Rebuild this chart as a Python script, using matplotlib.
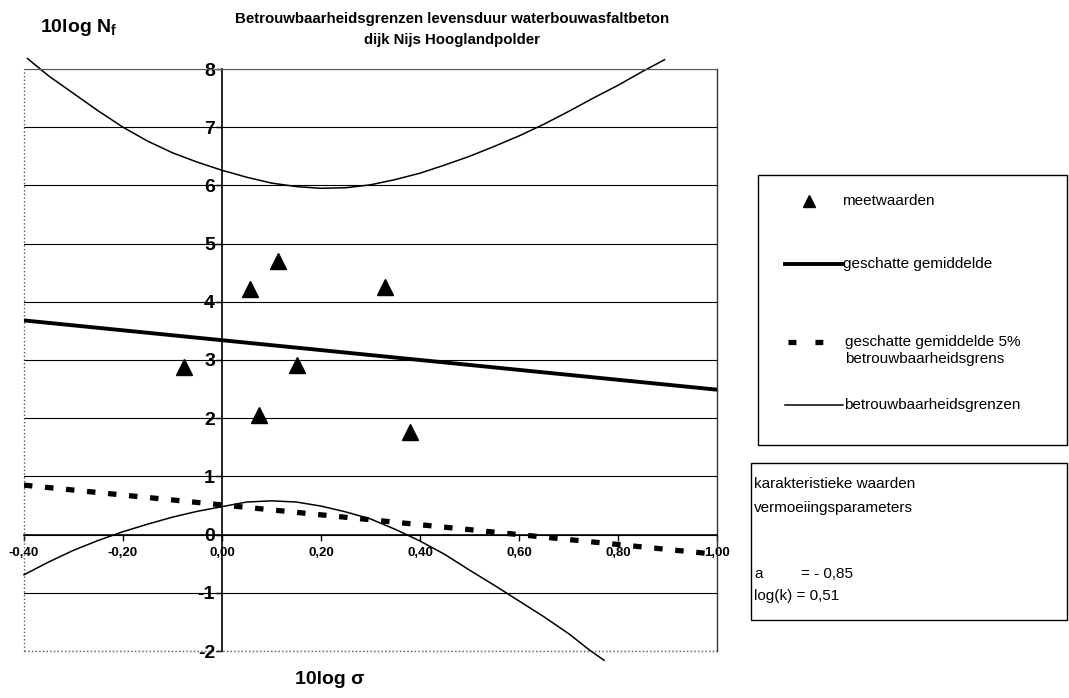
import matplotlib.pyplot as plt
from matplotlib.lines import Line2D
from matplotlib.patches import Rectangle

plt.rcParams['font.family'] = ['Liberation Sans', 'DejaVu Sans']
plt.rcParams['mathtext.fontset'] = 'custom'
plt.rcParams['mathtext.rm'] = 'Liberation Sans'
plt.rcParams['mathtext.bf'] = 'Liberation Sans:bold'

# measured values (10log sigma, 10log Nf)
meet_x = [-0.077, 0.057, 0.113, 0.329, 0.152, 0.074, 0.379]
meet_y = [2.88, 4.22, 4.70, 4.25, 2.91, 2.06, 1.76]

# estimated mean and 5% bound (straight lines)
gem_x = [-0.40, 1.00]
gem_y = [3.68, 2.49]
grens5_x = [-0.40, 1.00]
grens5_y = [0.85, -0.34]

# confidence limits
boven_x = [-0.393, -0.35, -0.30, -0.25, -0.20, -0.15, -0.10, -0.05, 0.00, 0.05, 0.10, 0.15, 0.20,
           0.25, 0.30, 0.35, 0.40, 0.45, 0.50, 0.55, 0.60, 0.65, 0.70, 0.75, 0.80, 0.85, 0.894]
boven_y = [8.18, 7.88, 7.58, 7.28, 7.00, 6.76, 6.56, 6.40, 6.26, 6.14, 6.04, 5.98, 5.95,
           5.96, 6.01, 6.10, 6.21, 6.35, 6.50, 6.67, 6.85, 7.05, 7.27, 7.50, 7.72, 7.96, 8.16]
onder_x = [-0.40, -0.35, -0.30, -0.25, -0.20, -0.15, -0.10, -0.05, 0.00, 0.05, 0.10, 0.15, 0.20,
           0.25, 0.30, 0.35, 0.40, 0.45, 0.50, 0.55, 0.60, 0.65, 0.70, 0.745, 0.772]
onder_y = [-0.69, -0.47, -0.27, -0.10, 0.05, 0.18, 0.30, 0.40, 0.48, 0.56, 0.58, 0.56, 0.49,
           0.39, 0.27, 0.09, -0.11, -0.34, -0.61, -0.87, -1.14, -1.41, -1.70, -2.00, -2.16]

xticks = [-0.4, -0.2, 0.0, 0.2, 0.4, 0.6, 0.8, 1.0]
yticks = list(range(-2, 9))

W, H = 1069, 698
fig = plt.figure(figsize=(W / 100, H / 100), dpi=100)

def px(x, y):
    return x / W, 1 - y / H

ax = fig.add_axes([24 / W, 1 - 651 / H, (717 - 24) / W, (651 - 69) / H])
ax.set_xlim(-0.4, 1.0)
ax.set_ylim(-2, 8)

ax.yaxis.grid(True, color='black', lw=0.8)
ax.set_axisbelow(True)

ax.spines['left'].set_position(('data', 0))
ax.spines['bottom'].set_position(('data', 0))
for s in ['left', 'bottom']:
    ax.spines[s].set_linewidth(1.2)
ax.spines['top'].set_color('0.35')
ax.spines['right'].set_color('0.2')
ax.spines['top'].set_linewidth(0.8)
ax.spines['right'].set_linewidth(1.0)
ax.plot([0, 0], [0, 1], transform=ax.transAxes, ls=':', color='0.35', lw=1.0, clip_on=False)
ax.plot([0, 1], [0, 0], transform=ax.transAxes, ls=':', color='0.35', lw=1.0, clip_on=False)

ax.set_xticks(xticks)
ax.set_xticklabels([('%.2f' % v).replace('.', ',') for v in xticks], fontweight='bold', fontsize=9.5)
ax.set_yticks(yticks)
ax.set_yticklabels([str(v) for v in yticks], fontweight='bold', fontsize=14)
ax.tick_params(axis='x', direction='out', length=4, width=1, pad=5)
ax.tick_params(axis='y', direction='out', length=4, width=1, pad=1)

ax.plot(boven_x, boven_y, color='black', lw=1.1, clip_on=False)
ax.plot(onder_x, onder_y, color='black', lw=1.1, clip_on=False)
ax.plot(gem_x, gem_y, color='black', lw=2.8)
ax.plot(grens5_x, grens5_y, color='black', lw=3.8, dashes=(1.6, 2.4))
ax.plot(meet_x, meet_y, ls='none', marker='^', ms=11, color='black')

# titles
fig.text(*px(452, 19), 'Betrouwbaarheidsgrenzen levensduur waterbouwasfaltbeton',
         ha='center', va='center', fontsize=10.8, fontweight='bold')
fig.text(*px(452, 40), 'dijk Nijs Hooglandpolder',
         ha='center', va='center', fontsize=10.8, fontweight='bold')
fig.text(*px(40, 28), r'10log N$_\mathbf{f}$', ha='left', va='center', fontsize=14, fontweight='bold')
fig.text(*px(330, 680), '10log σ', ha='center', va='center', fontsize=14, fontweight='bold')

# legend box
x0, y0 = px(758, 445)
x1, y1 = px(1067, 175)
fig.add_artist(Rectangle((x0, y0), x1 - x0, y1 - y0, transform=fig.transFigure,
                         fill=False, edgecolor='black', lw=1.0))
fig.add_artist(Line2D([px(809, 0)[0]], [px(0, 201)[1]], marker='^', ms=8, color='black',
                      transform=fig.transFigure))
fig.text(*px(842, 201), 'meetwaarden', ha='left', va='center', fontsize=11)
fig.add_artist(Line2D([px(785, 0)[0], px(842, 0)[0]], [px(0, 264)[1]] * 2, lw=2.8, color='black',
                      transform=fig.transFigure))
fig.text(*px(843, 264), 'geschatte gemiddelde', ha='left', va='center', fontsize=11)
fig.add_artist(Line2D([px(788, 0)[0], px(823, 0)[0]], [px(0, 342)[1]] * 2, lw=3.8, color='black',
                      dashes=(1.5, 3.6), transform=fig.transFigure))
fig.text(*px(845, 342), 'geschatte gemiddelde 5%', ha='left', va='center', fontsize=11)
fig.text(*px(845, 359), 'betrouwbaarheidsgrens', ha='left', va='center', fontsize=11)
fig.add_artist(Line2D([px(785, 0)[0], px(843, 0)[0]], [px(0, 405)[1]] * 2, lw=1.1, color='black',
                      transform=fig.transFigure))
fig.text(*px(844, 405), 'betrouwbaarheidsgrenzen', ha='left', va='center', fontsize=11)

# parameter box
x0, y0 = px(751, 620)
x1, y1 = px(1067, 463)
fig.add_artist(Rectangle((x0, y0), x1 - x0, y1 - y0, transform=fig.transFigure,
                         fill=False, edgecolor='black', lw=1.0))
fig.text(*px(754, 484), 'karakteristieke waarden', ha='left', va='center', fontsize=11)
fig.text(*px(754, 508), 'vermoeiingsparameters', ha='left', va='center', fontsize=11)
fig.text(*px(754, 574), 'a', ha='left', va='center', fontsize=11)
fig.text(*px(801, 574), '= - 0,85', ha='left', va='center', fontsize=11)
fig.text(*px(754, 596), 'log(k) = 0,51', ha='left', va='center', fontsize=11)

fig.savefig('out.png', dpi=100)
